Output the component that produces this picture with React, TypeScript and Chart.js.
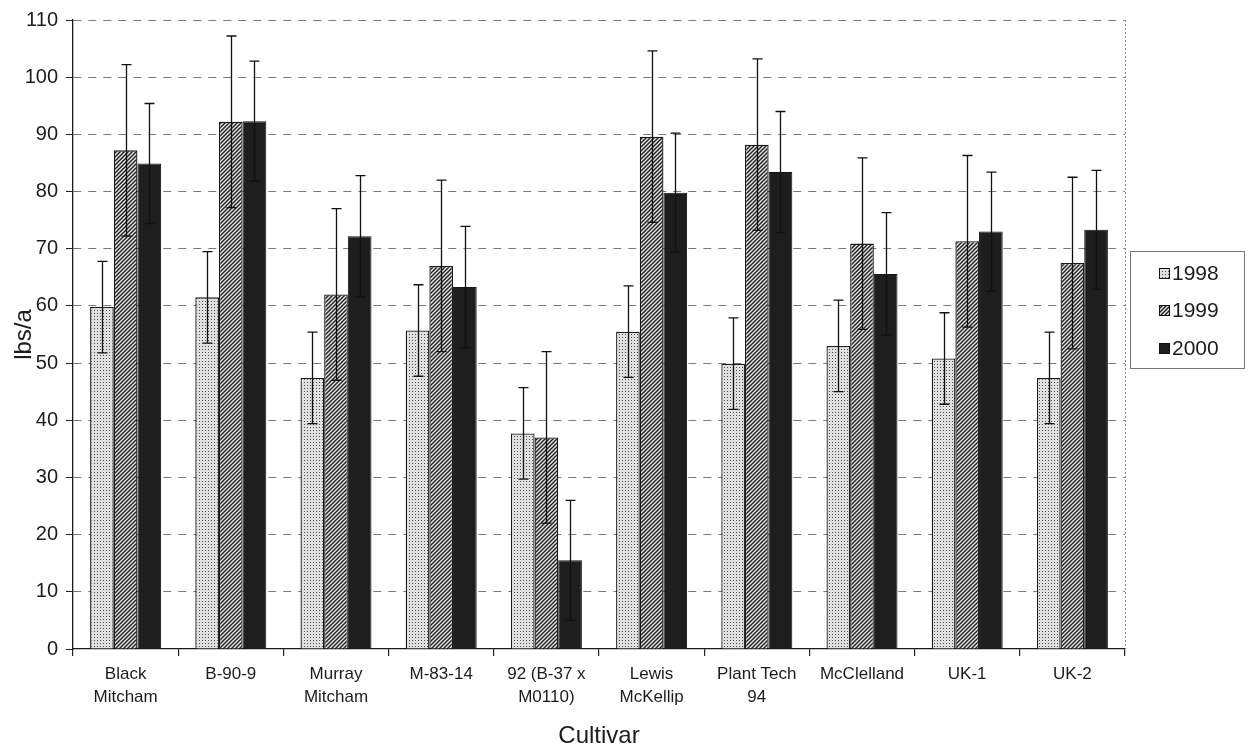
import React, { useEffect, useRef } from "react";
import { Chart, registerables } from "chart.js";

Chart.register(...registerables);

const categories: (string | string[])[] = [
  ["Black", "Mitcham"],
  "B-90-9",
  ["Murray", "Mitcham"],
  "M-83-14",
  ["92 (B-37 x", "M0110)"],
  ["Lewis", "McKellip"],
  ["Plant Tech", "94"],
  "McClelland",
  "UK-1",
  "UK-2",
];
const seriesNames = ["1998", "1999", "2000"];
const values1998 = [59.8, 61.5, 47.4, 55.7, 37.7, 55.5, 49.9, 53.0, 50.8, 47.4];
const values1999 = [87.2, 92.2, 62.0, 67.0, 37.0, 89.6, 88.2, 70.9, 71.3, 67.5];
const values2000 = [84.9, 92.3, 72.2, 63.3, 15.5, 79.8, 83.4, 65.6, 73.0, 73.3];
const errors1998 = [8, 8, 8, 8, 8, 8, 8, 8, 8, 8];
const errors1999 = [15, 15, 15, 15, 15, 15, 15, 15, 15, 15];
const errors2000 = [10.5, 10.5, 10.6, 10.6, 10.5, 10.4, 10.6, 10.7, 10.4, 10.4];
const yMin = 0;
const yMax = 110;
const yStep = 10;
const xTitle = "Cultivar";
const yTitle = "lbs/a";

const FONT = "'Liberation Sans', Arial, Helvetica, sans-serif";
const INK = "#1c1c1c";

function makeStipple(): CanvasPattern | string {
  const c = document.createElement("canvas");
  c.width = 3;
  c.height = 3;
  const g = c.getContext("2d");
  if (!g) return "#ddd";
  g.fillStyle = "#e0e0e0";
  g.fillRect(0, 0, 3, 3);
  g.fillStyle = "#505050";
  g.fillRect(1, 1, 1, 1);
  const p = g.createPattern(c, "repeat");
  return p || "#ddd";
}

function makeHatch(): CanvasPattern | string {
  const s = 4;
  const c = document.createElement("canvas");
  c.width = s;
  c.height = s;
  const g = c.getContext("2d");
  if (!g) return "#888";
  g.fillStyle = "#e6e6e6";
  g.fillRect(0, 0, s, s);
  g.strokeStyle = "#262626";
  g.lineWidth = 1.5;
  g.beginPath();
  g.moveTo(-1, 1);
  g.lineTo(1, -1);
  g.moveTo(0, s);
  g.lineTo(s, 0);
  g.moveTo(s - 1, s + 1);
  g.lineTo(s + 1, s - 1);
  g.stroke();
  const p = g.createPattern(c, "repeat");
  return p || "#888";
}

export default function App() {
  const ref = useRef<HTMLCanvasElement | null>(null);

  useEffect(() => {
    const canvas = ref.current;
    if (!canvas) return;
    const stipple = makeStipple();
    const hatch = makeHatch();
    const fills = [stipple, hatch, "#1e1e1e"];
    const errs = [errors1998, errors1999, errors2000];

    const errorBars = {
      id: "errorBars",
      afterDatasetsDraw(chart: any) {
        const ctx = chart.ctx;
        const y = chart.scales.y;
        ctx.save();
        ctx.strokeStyle = "#111";
        ctx.lineWidth = 1.3;
        chart.data.datasets.forEach((ds: any, i: number) => {
          const meta = chart.getDatasetMeta(i);
          meta.data.forEach((bar: any, j: number) => {
            const v = ds.data[j];
            const e = errs[i][j];
            const top = y.getPixelForValue(v + e);
            const bot = y.getPixelForValue(v - e);
            const x = Math.round(bar.x) + 0.5;
            ctx.beginPath();
            ctx.moveTo(x, top);
            ctx.lineTo(x, bot);
            ctx.moveTo(x - 5, top);
            ctx.lineTo(x + 5, top);
            ctx.moveTo(x - 5, bot);
            ctx.lineTo(x + 5, bot);
            ctx.stroke();
          });
        });
        ctx.restore();
      },
    };

    const frame = {
      id: "frameAndLegend",
      afterDraw(chart: any) {
        const ctx = chart.ctx;
        const a = chart.chartArea;
        ctx.save();
        // right border (thin dotted)
        ctx.strokeStyle = "#8a8a8a";
        ctx.lineWidth = 1;
        ctx.setLineDash([2, 2]);
        ctx.beginPath();
        ctx.moveTo(Math.round(a.right) + 0.5, a.top);
        ctx.lineTo(Math.round(a.right) + 0.5, a.bottom);
        ctx.stroke();
        ctx.setLineDash([]);
        // legend box
        const lx = 1130, ly = 251, lw = 114, lh = 117;
        ctx.fillStyle = "#fff";
        ctx.fillRect(lx, ly, lw, lh);
        ctx.strokeStyle = "#777";
        ctx.lineWidth = 1;
        ctx.strokeRect(lx + 0.5, ly + 0.5, lw, lh);
        const rows = [273, 310, 348];
        ctx.font = `21px ${FONT}`;
        ctx.textBaseline = "middle";
        ctx.textAlign = "left";
        seriesNames.forEach((name, i) => {
          const cy = rows[i];
          ctx.fillStyle = fills[i] as any;
          ctx.fillRect(1159, cy - 5, 11, 11);
          ctx.strokeStyle = "#111";
          ctx.strokeRect(1159.5, cy - 4.5, 10, 10);
          ctx.fillStyle = INK;
          ctx.fillText(name, 1172, cy + 1);
        });
        ctx.restore();
      },
    };

    const chart = new Chart(canvas, {
      type: "bar",
      data: {
        labels: categories,
        datasets: [
          { label: seriesNames[0], data: values1998, backgroundColor: fills[0] as any, borderColor: "#1a1a1a", borderWidth: 1.3 },
          { label: seriesNames[1], data: values1999, backgroundColor: fills[1] as any, borderColor: "#1a1a1a", borderWidth: 1.3 },
          { label: seriesNames[2], data: values2000, backgroundColor: fills[2] as any, borderColor: "#151515", borderWidth: 1 },
        ],
      },
      options: {
        animation: false,
        responsive: false,
        maintainAspectRatio: false,
        datasets: { bar: { categoryPercentage: 0.675, barPercentage: 1 } },
        layout: { padding: { left: 0, right: 124, top: 19, bottom: 0 } },
        plugins: {
          legend: { display: false },
          tooltip: { enabled: false },
        },
        scales: {
          x: {
            type: "category",
            offset: true,
            grid: {
              display: true,
              offset: true,
              drawOnChartArea: false,
              drawTicks: true,
              tickLength: 7,
              color: "#222",
              lineWidth: 1.2,
            },
            border: { display: true, color: "#1a1a1a", width: 1.3 },
            ticks: {
              color: INK,
              font: { family: FONT, size: 17, lineHeight: 1.35 },
              padding: 7,
              maxRotation: 0,
              autoSkip: false,
            },
            title: {
              display: true,
              text: xTitle,
              color: INK,
              font: { family: FONT, size: 24 },
              padding: { top: 4, bottom: 0 },
            },
            afterFit(scale: any) {
              scale.height = 751 - 649;
            },
          },
          y: {
            min: yMin,
            max: yMax,
            ticks: {
              stepSize: yStep,
              color: INK,
              font: { family: FONT, size: 20 },
              padding: 8,
            },
            grid: {
              color: (c: any) => (c.tick && c.tick.value === 0 ? "rgba(0,0,0,0)" : "#7a7a7a"),
              tickColor: "#222",
              tickLength: 7,
              lineWidth: 1,
            },
            border: { display: true, color: "#1a1a1a", width: 1.3, dash: [8, 7] },
            title: {
              display: true,
              text: yTitle,
              color: INK,
              font: { family: FONT, size: 24 },
              padding: { top: 10, bottom: 0 },
            },
            afterFit(scale: any) {
              scale.width = 73;
            },
          },
        },
      },
      plugins: [errorBars, frame],
    } as any);

    return () => chart.destroy();
  }, []);

  return (
    <div style={{ position: "absolute", left: 0, top: 0, width: 1249, height: 751, background: "#fff" }}>
      <canvas ref={ref} width={1249} height={751} style={{ display: "block" }} />
    </div>
  );
}
